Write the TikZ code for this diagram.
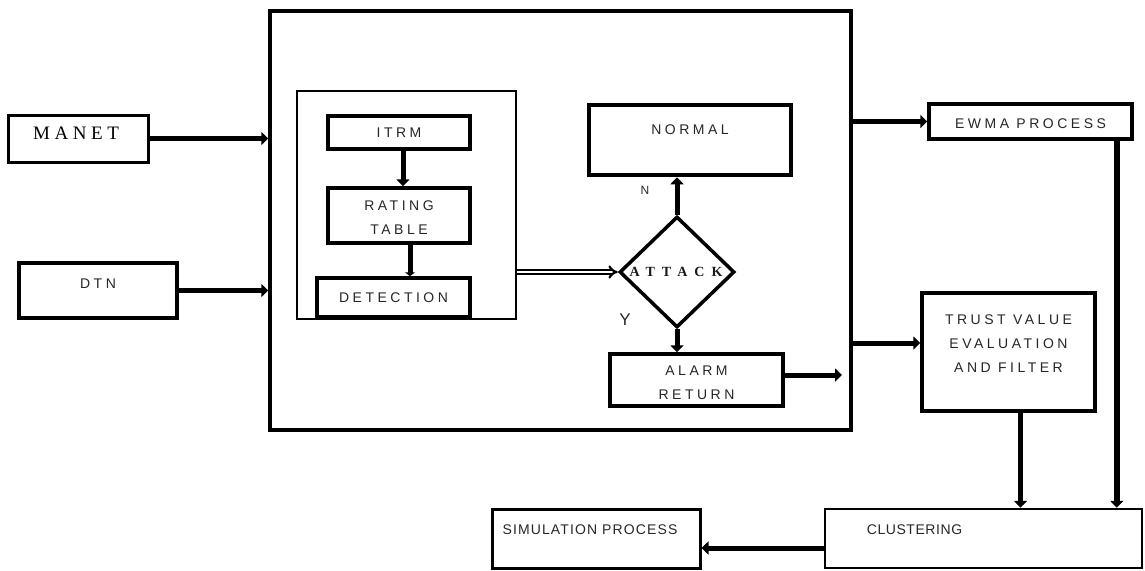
\documentclass[tikz,border=0pt]{standalone}
\usepackage{fontspec}
\setmainfont{Liberation Sans}
\newfontfamily\bxf[LetterSpace=25]{Liberation Sans}
\newfontfamily\bxn[LetterSpace=4]{Liberation Sans}
\newfontfamily\bxm[LetterSpace=8]{Liberation Sans}
\newfontfamily\srf[LetterSpace=24]{Liberation Serif}
\newfontfamily\srb[LetterSpace=50]{Liberation Serif Bold}
\usetikzlibrary{arrows.meta,shapes.geometric}
\begin{document}
\begin{tikzpicture}[x=1pt,y=-1pt,
  box/.style={draw, line width=3.5pt, inner sep=0pt},
  lab/.style={font=\bxf\fontsize{14}{24}\selectfont, align=center, inner sep=0pt, text=black!85},
  labn/.style={font=\bxn\fontsize{14}{24}\selectfont, align=center, inner sep=0pt, text=black!85},
  arr/.style={line width=5pt, -{Triangle[length=7pt,width=13pt]}},
  darr/.style={double, double distance=2pt, line width=2.2pt, -{Implies}},
  tag/.style={font=\fontsize{12}{13}\selectfont, inner sep=0pt, text=black!85}]
\useasboundingbox (0,0) rectangle (1145,570);

% outer frame
\node[box, minimum width=581pt, minimum height=419pt] (big) at (560.5,220.5) {};
\node[draw, line width=1.5pt, minimum width=219pt, minimum height=228pt, inner sep=0pt] (inner) at (406.5,205) {};

% left inputs
\node[box, line width=3pt, minimum width=140pt, minimum height=47pt,
  label={[font=\srf\fontsize{19}{20}\selectfont, inner sep=0pt, xshift=-2pt, yshift=5pt]center:MANET}] (manet) at (78,138.5) {};
\node[box, minimum width=158pt, minimum height=55pt,
  label={[lab, yshift=7pt]center:DTN}] (dtn) at (98,290.5) {};

% inner blocks
\node[box, minimum width=142pt, minimum height=33pt, label={[lab]center:ITRM}] (itrm) at (399,132.5) {};
\node[box, minimum width=142pt, minimum height=55pt, label={[lab, yshift=-2pt]center:RATING\\TABLE}] (rating) at (399,215.5) {};
\node[box, minimum width=153pt, minimum height=39pt, label={[lab]center:DETECTION}] (det) at (393.5,297.5) {};

% decision
\node[draw, diamond, line width=3.5pt, minimum width=115pt, minimum height=111pt, inner sep=0pt,
  label={[font=\srb\fontsize{14}{15}\selectfont, inner sep=0pt, text=black!90, xshift=-1pt]center:ATTACK}] (dia) at (677,272) {};
\node[box, line width=4.5pt, minimum width=202pt, minimum height=70pt, label={[lab, yshift=10pt]center:NORMAL}] (normal) at (690,140) {};
\node[box, minimum width=173pt, minimum height=52pt, label={[lab, yshift=-3pt]center:ALARM\\RETURN}] (alarm) at (696.5,380) {};
\node[tag] (nlab) at (645,190) {N};
\node[font=\fontsize{17}{18}\selectfont, inner sep=0pt, text=black!85] (ylab) at (625,320) {Y};

% right column
\node[box, minimum width=203pt, minimum height=35pt, label={[lab, yshift=-2pt]center:EWMA PROCESS}] (ewma) at (1030.5,121.5) {};
\node[box, minimum width=173pt, minimum height=118pt, label={[lab, yshift=8pt]center:TRUST VALUE\\EVALUATION\\AND FILTER}] (trust) at (1008.5,352) {};
\node[box, line width=2.5pt, minimum width=317pt, minimum height=59pt, label={[labn, xshift=-69pt, yshift=8.5pt]center:CLUSTERING}] (clust) at (983.5,538.5) {};
\node[box, line width=3pt, minimum width=208pt, minimum height=59pt, label={[labn, font=\bxm\fontsize{14}{24}\selectfont, xshift=-6pt, yshift=8.5pt]center:SIMULATION PROCESS}] (sim) at (596,538.5) {};

% connectors
\draw[arr] (manet.east) -- (manet.east -| big.west);
\draw[arr] (dtn.east) -- (dtn.east -| big.west);
\coordinate (ir) at ([xshift=4pt]itrm.south);
\draw[arr] (ir) -- (ir |- rating.north);
\coordinate (rd) at ([xshift=11pt]rating.south);
\draw[arr, -{Triangle[length=4pt,width=10pt]}] (rd) -- (rd |- det.north);
\draw[darr] (inner.east |- dia.west) -- (dia.west);
\draw[arr] (dia.north) -- (dia.north |- normal.south);
\draw[arr] (dia.south) -- (dia.south |- alarm.north);
\coordinate (alarmout) at (842,375);
\draw[arr] (alarm.east |- alarmout) -- (alarmout);
\draw[arr] (big.east |- ewma.west) -- (ewma.west);
\coordinate (tin) at ([yshift=9pt]trust.west);
\draw[arr] (tin -| big.east) -- (tin);
\coordinate (ew) at ([xshift=-17pt]ewma.south east);
\draw[arr, line width=6pt] (ew) -- (ew |- clust.north);
\coordinate (tr) at ([xshift=12pt]trust.south);
\draw[arr] (tr) -- (tr |- clust.north);
\coordinate (cs) at ([yshift=-9.5pt]clust.west);
\draw[arr] (cs) -- (cs -| sim.east);
\end{tikzpicture}
\end{document}
